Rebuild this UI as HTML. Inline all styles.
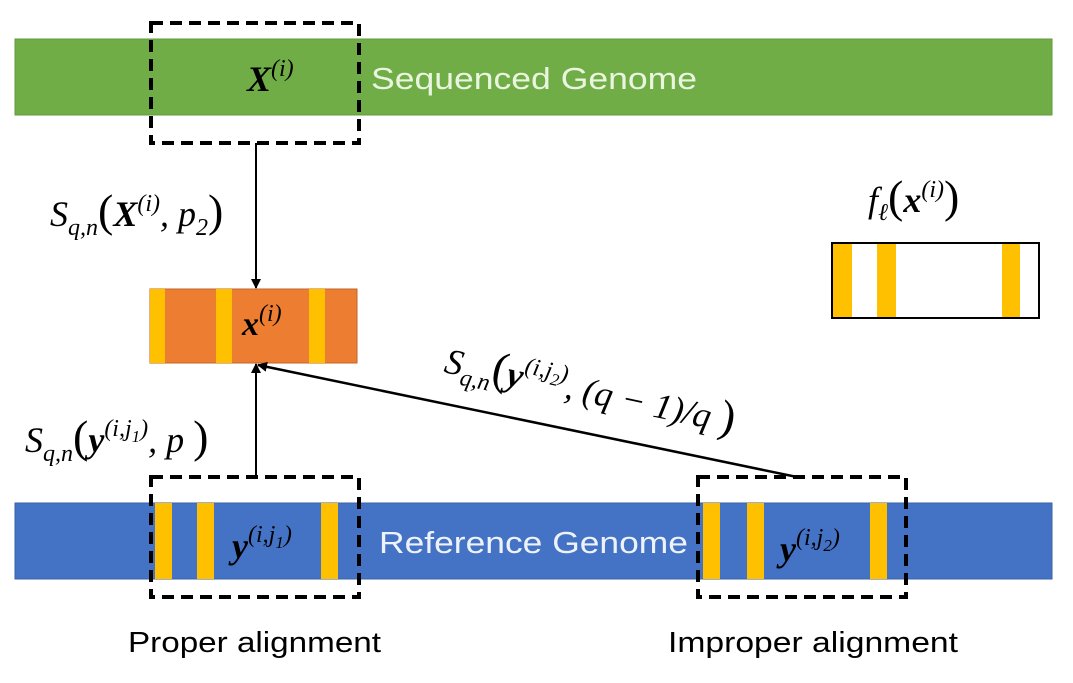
<!DOCTYPE html>
<html><head><meta charset="utf-8"><style>
html,body{margin:0;padding:0;background:#fff;width:1073px;height:683px;overflow:hidden}
svg{display:block}
.m{font-family:"Liberation Serif",serif;font-style:italic;fill:#000}
.b{font-weight:bold}
.s{font-family:"Liberation Sans","DejaVu Sans",sans-serif}
</style></head><body>
<svg width="1073" height="683" viewBox="0 0 1073 683" xmlns="http://www.w3.org/2000/svg">
<defs><marker id="ah" markerWidth="10" markerHeight="10" refX="9" refY="5" orient="auto" markerUnits="userSpaceOnUse"><path d="M0,0 L10,5 L0,10 Z" fill="#000"/></marker></defs>
<rect x="15" y="39" width="1037" height="76" fill="#70ad47" stroke="#5f9a3c" stroke-width="1"/>
<text x="371" y="89" class="s" font-size="31" fill="#eaf5e0" textLength="326" lengthAdjust="spacingAndGlyphs">Sequenced Genome</text>
<text x="247" y="91" class="m b" font-size="36">X<tspan font-size="24" font-weight="normal" dy="-15">(i)</tspan></text>
<rect x="151" y="23" width="208" height="120" fill="none" stroke="#000" stroke-width="4" stroke-dasharray="12,7"/>
<line x1="256" y1="143" x2="256" y2="288" stroke="#000" stroke-width="2" marker-end="url(#ah)"/>
<text x="50" y="226" class="m" font-size="36">S<tspan font-size="24" dy="9">q,n</tspan><tspan dy="-9" font-size="46" font-style="normal">(</tspan><tspan class="b">X</tspan><tspan font-size="24" dy="-15">(i)</tspan><tspan dy="15">, p</tspan><tspan font-size="24" dy="9">2</tspan><tspan dy="-9" font-size="46" font-style="normal">)</tspan></text>
<rect x="150" y="289" width="207" height="74" fill="#ed7d31" stroke="#c0652a" stroke-width="1"/>
<rect x="150" y="289" width="15" height="74" fill="#ffc000"/>
<rect x="216" y="289" width="16" height="74" fill="#ffc000"/>
<rect x="309" y="289" width="16" height="74" fill="#ffc000"/>
<text x="242" y="335" class="m b" font-size="34">x<tspan font-size="24" font-weight="normal" dy="-14">(i)</tspan></text>
<text x="868" y="212" class="m" font-size="36">f<tspan font-size="24" dy="8">ℓ</tspan><tspan dy="-8" font-size="46" font-style="normal">(</tspan><tspan class="b">x</tspan><tspan font-size="24" dy="-15">(i)</tspan><tspan dy="15" font-size="46" font-style="normal">)</tspan></text>
<rect x="832" y="243" width="207" height="75" fill="#fff" stroke="#000" stroke-width="2"/>
<rect x="833" y="244" width="19" height="73" fill="#ffc000"/>
<rect x="877" y="244" width="19" height="73" fill="#ffc000"/>
<rect x="1002" y="244" width="18" height="73" fill="#ffc000"/>
<rect x="15" y="503" width="1037" height="76" fill="#4472c4" stroke="#3a62a8" stroke-width="1"/>
<rect x="155" y="503" width="17" height="76" fill="#ffc000"/>
<rect x="197" y="503" width="17" height="76" fill="#ffc000"/>
<rect x="321" y="503" width="17" height="76" fill="#ffc000"/>
<rect x="703" y="503" width="17" height="76" fill="#ffc000"/>
<rect x="747" y="503" width="17" height="76" fill="#ffc000"/>
<rect x="870" y="503" width="17" height="76" fill="#ffc000"/>
<text x="379" y="553" class="s" font-size="31" fill="#eef3fb" textLength="309" lengthAdjust="spacingAndGlyphs">Reference Genome</text>
<text x="232" y="558" class="m b" font-size="36">y<tspan font-size="24" font-weight="normal" dy="-16">(i,j</tspan><tspan font-size="17" font-weight="normal" dy="6">1</tspan><tspan font-size="24" font-weight="normal" dy="-6">)</tspan></text>
<text x="780" y="561" class="m b" font-size="36">y<tspan font-size="24" font-weight="normal" dy="-16">(i,j</tspan><tspan font-size="17" font-weight="normal" dy="6">2</tspan><tspan font-size="24" font-weight="normal" dy="-6">)</tspan></text>
<rect x="151" y="477" width="208" height="120" fill="none" stroke="#000" stroke-width="4" stroke-dasharray="12,7"/>
<rect x="698" y="477" width="208" height="120" fill="none" stroke="#000" stroke-width="4" stroke-dasharray="12,7"/>
<line x1="256" y1="477" x2="256" y2="364" stroke="#000" stroke-width="2" marker-end="url(#ah)"/>
<line x1="797" y1="477" x2="258" y2="365" stroke="#000" stroke-width="2.5" marker-end="url(#ah)"/>
<text x="25" y="452" class="m" font-size="36">S<tspan font-size="24" dy="9">q,n</tspan><tspan dy="-9" font-size="46" font-style="normal">(</tspan><tspan class="b">y</tspan><tspan font-size="24" dy="-16">(i,j</tspan><tspan font-size="17" dy="6">1</tspan><tspan font-size="24" dy="-6">)</tspan><tspan dy="16">, p </tspan><tspan font-size="46" font-style="normal">)</tspan></text>
<text x="443" y="372" class="m" font-size="36" transform="rotate(12 443 372)">S<tspan font-size="24" dy="9">q,n</tspan><tspan dy="-9" font-size="46" font-style="normal">(</tspan><tspan class="b">y</tspan><tspan font-size="24" dy="-16">(i,j</tspan><tspan font-size="17" dy="6">2</tspan><tspan font-size="24" dy="-6">)</tspan><tspan dy="16">, (q − 1)/q </tspan><tspan font-size="46" font-style="normal">)</tspan></text>
<text x="128" y="652" class="s" font-size="29" textLength="253" lengthAdjust="spacingAndGlyphs">Proper alignment</text>
<text x="668" y="652" class="s" font-size="29" textLength="290" lengthAdjust="spacingAndGlyphs">Improper alignment</text>
</svg>
</body></html>
